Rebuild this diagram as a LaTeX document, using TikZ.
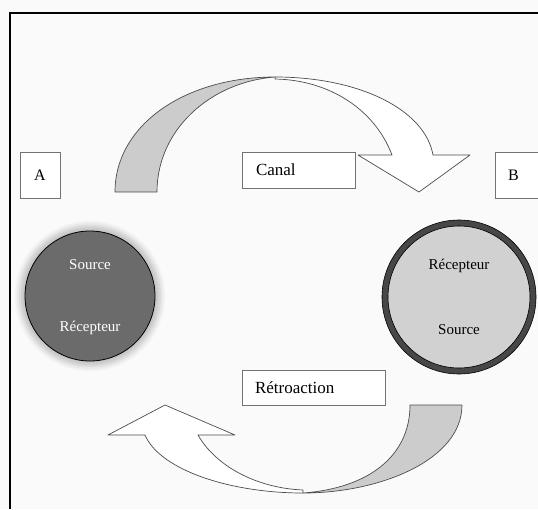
\documentclass[tikz,border=0pt]{standalone}
\usepackage{fontspec}
\setmainfont{Liberation Serif}
\begin{document}
\begin{tikzpicture}[x=1pt,y=-1pt,
  lbox/.style={draw=black!55, line width=0.8pt, fill=white, inner sep=0pt, font=\fontsize{16}{18}\selectfont},
  tbox/.style={draw=black!55, line width=0.8pt, fill=white, font=\fontsize{17}{19}\selectfont, align=left, inner ysep=0pt, minimum height=36pt, anchor=center},
  band/.style={draw=black!70, line width=0.7pt, line join=round},
  ctext/.style={font=\fontsize{15}{17}\selectfont}
]
\useasboundingbox (0,0) rectangle (538,509);
\fill[white!98!black] (0,0) rectangle (538,509);
% frame
\draw[line width=2pt] (10,509) -- (10,12.5) -- (538,12.5);

% top arrow (Canal)
\draw[band, fill=gray!40] (115,192) .. controls (115,125) and (185,77) .. (275,77)
   .. controls (210,82) and (157,130) .. (157,192) -- cycle;
\draw[band, fill=white] (275,77) .. controls (360,77) and (425,110) .. (433,155)
   -- (470,155) -- (419,192) -- (358,155) -- (392,155)
   .. controls (375,110) and (330,80) .. (275,79) -- cycle;

% bottom arrow (Retroaction)
\draw[band, fill=gray!40] (462,405) .. controls (462,460) and (380,493) .. (303,493)
   .. controls (370,488) and (410,455) .. (410,405) -- cycle;
\draw[band, fill=white] (303,493) .. controls (230,493) and (160,470) .. (145,435)
   -- (108,435) -- (165,405) -- (235,435) -- (198,435)
   .. controls (215,465) and (255,488) .. (303,490) -- cycle;

% labels boxes
\node[lbox, minimum width=40pt, minimum height=46pt] (A) at (40,175) {A};
\node[lbox, minimum width=46pt, minimum height=46pt, text width=36pt, align=left, inner xsep=5pt] (B) at (518,175) {\hspace*{8pt}B};
\node[tbox, text width=85pt, inner xsep=14pt] (canal) at (298.5,170) {Canal};
\node[tbox, text width=117pt, inner xsep=13pt, minimum height=35pt] (retro) at (313.5,387.5) {Rétroaction};

% left circle with glow
\foreach \r/\c in {75/10,73/18,71/28,69/38,67/45}{\fill[gray!\c] (90,296) circle (\r);}
\node[circle, draw=black, line width=0.8pt, fill=black!58, minimum size=130pt, inner sep=0pt] (CA) at (90,296) {};
\node[ctext, text=white] (sa) at (90,265) {Source};
\node[ctext, text=white] (ra) at (90,328) {Récepteur};

% right circle
\node[circle, draw=black!72, line width=6pt, fill=black!18, minimum size=148pt, inner sep=0pt] (CB) at (459,297) {};
\draw[black, line width=0.6pt] (CB.center) circle (77);
\draw[black, line width=0.6pt] (CB.center) circle (71);
\node[ctext] (rb) at (459,266) {Récepteur};
\node[ctext] (sb) at (459,330) {Source};
\end{tikzpicture}
\end{document}
